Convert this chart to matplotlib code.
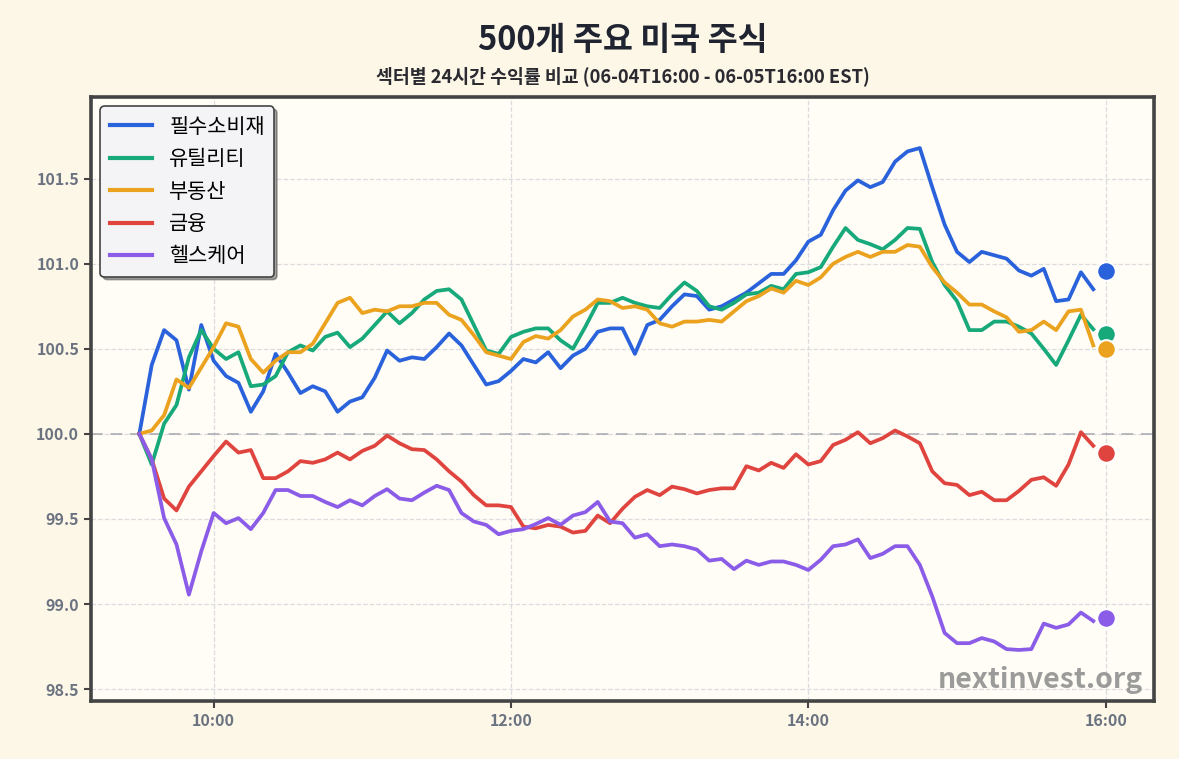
import pandas as pd
import numpy as np
import matplotlib
matplotlib.use('Agg')
import matplotlib.pyplot as plt
import matplotlib.dates as mdates

plt.rcParams['font.family'] = ['Noto Sans CJK KR', 'DejaVu Sans']

# 5-minute closes, 09:30 .. 15:55, indexed to 100 at the open
times = pd.date_range('2025-06-05 09:30', periods=78, freq='5min')
end_time = pd.Timestamp('2025-06-05 16:00')

staples = [100.00, 100.405, 100.61, 100.55, 100.26, 100.64, 100.43, 100.34, 100.30, 100.13,
           100.25, 100.47, 100.36, 100.24, 100.28, 100.25, 100.13, 100.19, 100.215, 100.33,
           100.49, 100.43, 100.45, 100.44, 100.51, 100.59, 100.52, 100.405, 100.29, 100.31,
           100.37, 100.44, 100.42, 100.48, 100.386, 100.46, 100.50, 100.60, 100.62, 100.62,
           100.47, 100.64, 100.67, 100.75, 100.82, 100.81, 100.73, 100.75, 100.79, 100.83,
           100.885, 100.94, 100.94, 101.02, 101.13, 101.17, 101.315, 101.43, 101.49, 101.45,
           101.48, 101.60, 101.66, 101.68, 101.45, 101.23, 101.07, 101.01, 101.07, 101.05,
           101.03, 100.96, 100.93, 100.97, 100.78, 100.79, 100.95, 100.85]
utilities = [100.00, 99.82, 100.06, 100.17, 100.45, 100.61, 100.50, 100.44, 100.48, 100.28,
             100.29, 100.34, 100.48, 100.52, 100.49, 100.57, 100.595, 100.51, 100.56, 100.64,
             100.72, 100.65, 100.71, 100.79, 100.84, 100.85, 100.79, 100.64, 100.49, 100.47,
             100.57, 100.60, 100.62, 100.62, 100.55, 100.50, 100.63, 100.77, 100.77, 100.80,
             100.77, 100.75, 100.74, 100.82, 100.89, 100.84, 100.75, 100.73, 100.77, 100.82,
             100.83, 100.87, 100.85, 100.94, 100.95, 100.98, 101.10, 101.21, 101.14, 101.115,
             101.085, 101.14, 101.21, 101.205, 101.01, 100.875, 100.78, 100.61, 100.61, 100.66,
             100.66, 100.63, 100.59, 100.50, 100.405, 100.55, 100.70, 100.615]
real_estate = [100.00, 100.02, 100.11, 100.32, 100.27, 100.39, 100.51, 100.65, 100.63, 100.44,
               100.36, 100.43, 100.48, 100.48, 100.53, 100.65, 100.77, 100.80, 100.71, 100.73,
               100.72, 100.75, 100.75, 100.77, 100.77, 100.70, 100.67, 100.58, 100.48, 100.46,
               100.44, 100.54, 100.575, 100.56, 100.61, 100.69, 100.73, 100.79, 100.78, 100.74,
               100.75, 100.73, 100.65, 100.63, 100.66, 100.66, 100.67, 100.66, 100.72, 100.78,
               100.81, 100.855, 100.83, 100.90, 100.875, 100.92, 101.00, 101.04, 101.07, 101.04,
               101.07, 101.07, 101.11, 101.10, 100.98, 100.89, 100.83, 100.76, 100.76, 100.72,
               100.685, 100.60, 100.61, 100.66, 100.61, 100.72, 100.73, 100.52]
financials = [100.00, 99.85, 99.62, 99.55, 99.69, 99.78, 99.87, 99.955, 99.89, 99.905,
              99.74, 99.74, 99.78, 99.84, 99.83, 99.85, 99.89, 99.85, 99.90, 99.93,
              99.99, 99.945, 99.91, 99.905, 99.85, 99.78, 99.72, 99.64, 99.58, 99.58,
              99.57, 99.455, 99.445, 99.465, 99.455, 99.42, 99.43, 99.52, 99.475, 99.56,
              99.63, 99.67, 99.64, 99.69, 99.675, 99.65, 99.67, 99.68, 99.68, 99.81,
              99.785, 99.83, 99.80, 99.88, 99.82, 99.84, 99.935, 99.965, 100.01, 99.945,
              99.975, 100.02, 99.985, 99.945, 99.78, 99.71, 99.70, 99.64, 99.66, 99.61,
              99.61, 99.665, 99.73, 99.745, 99.695, 99.82, 100.01, 99.93]
healthcare = [100.00, 99.85, 99.505, 99.35, 99.055, 99.31, 99.535, 99.475, 99.505, 99.44,
              99.535, 99.67, 99.67, 99.635, 99.635, 99.60, 99.57, 99.61, 99.58, 99.635,
              99.675, 99.62, 99.61, 99.655, 99.695, 99.67, 99.535, 99.485, 99.465, 99.41,
              99.43, 99.44, 99.47, 99.505, 99.466, 99.52, 99.54, 99.60, 99.485, 99.475,
              99.39, 99.41, 99.34, 99.35, 99.34, 99.32, 99.255, 99.265, 99.205, 99.255,
              99.23, 99.25, 99.25, 99.23, 99.20, 99.26, 99.34, 99.35, 99.38, 99.27,
              99.295, 99.34, 99.34, 99.23, 99.045, 98.83, 98.77, 98.77, 98.80, 98.78,
              98.735, 98.73, 98.735, 98.885, 98.86, 98.88, 98.95, 98.90]

sectors = ['필수소비재', '유틸리티', '부동산', '금융', '헬스케어']
series = [staples, utilities, real_estate, financials, healthcare]
final_values = [100.96, 100.59, 100.50, 99.89, 98.92]
colors = ['#2a62dc', '#17a97a', '#eba21e', '#e0443f', '#8b5ce8']

fig = plt.figure(figsize=(11.79, 7.59), dpi=100, facecolor='#fdf7e8')
ax = fig.add_axes([0.0772, 0.0764, 0.9016, 0.7958])
ax.set_facecolor('#fffdf6')

for name, vals, col, last in zip(sectors, series, colors, final_values):
    ax.plot(times, vals, color=col, lw=2.7, label=name, zorder=3)
    ax.scatter([end_time], [last], s=180, color=col, edgecolor='white',
               linewidth=1.5, zorder=4)

ax.axhline(100, color='#a8a8b0', lw=1.4, ls=(0, (6, 4)), alpha=0.8, zorder=2)
ax.grid(True, ls='--', color='#d9d9dc', lw=0.9, alpha=0.9, zorder=1)

ax.set_ylim(98.43, 101.98)
ax.set_yticks([98.5, 99.0, 99.5, 100.0, 100.5, 101.0, 101.5])
ax.xaxis.set_major_locator(mdates.HourLocator(byhour=[10, 12, 14, 16]))
ax.xaxis.set_major_formatter(mdates.DateFormatter('%H:%M'))
ax.margins(x=0.05)

for lab in ax.get_xticklabels() + ax.get_yticklabels():
    lab.set_fontweight('bold')
ax.tick_params(axis='both', labelsize=11.5, labelcolor='#6b7280', color='#444444',
               length=5, width=1.5)
for sp in ax.spines.values():
    sp.set_color('#444444')
    sp.set_linewidth(2.6)

leg = ax.legend(loc='upper left', fontsize=15, handlelength=2.05, labelspacing=0.5,
                fancybox=True, shadow=True, framealpha=1, borderpad=0.45,
                borderaxespad=0.45)
leg.get_frame().set_facecolor('#f4f4f6')
leg.get_frame().set_edgecolor('#444444')
leg.get_frame().set_linewidth(1.2)
for h in leg.get_lines():
    h.set_linewidth(3)

ax.text(0.99, 0.012, 'nextinvest.org', transform=ax.transAxes, ha='right', va='bottom',
        fontsize=20.5, fontweight='bold', color='#8a8a8a', alpha=0.85, zorder=5)

cx = 0.0772 + 0.9016 / 2
fig.text(cx, 0.946, '500개 주요 미국 주식', ha='center', va='center',
         fontsize=23.5, fontweight='bold', color='#1f2430')
fig.text(cx, 0.900, '섹터별 24시간 수익률 비교 (06-04T16:00 - 06-05T16:00 EST)',
         ha='center', va='center', fontsize=13.2, fontweight='bold', color='#2a2a30')

fig.savefig('out.png', dpi=100, facecolor=fig.get_facecolor())
